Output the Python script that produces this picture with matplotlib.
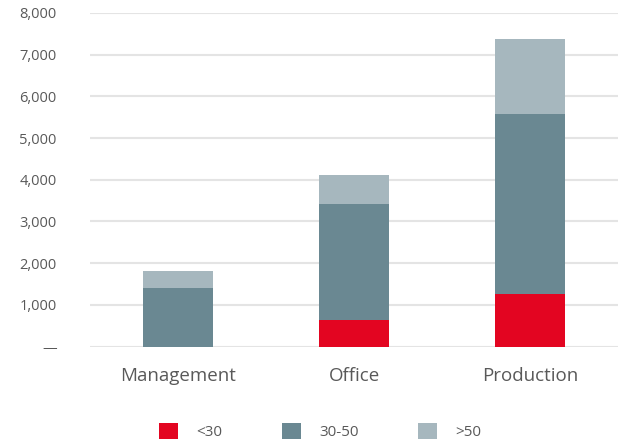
import matplotlib
matplotlib.use("Agg")
import matplotlib.pyplot as plt
from matplotlib.ticker import FuncFormatter
import numpy as np

plt.rcParams['font.family'] = ['Open Sans', 'DejaVu Sans']

categories = ["Management", "Office", "Production"]
age_groups = ["<30", "30-50", ">50"]
under_30 = [0, 635, 1260]
from_30_to_50 = [1400, 2780, 4320]
over_50 = [410, 700, 1800]

colors = ["#E30521", "#6A8892", "#A6B7BE"]
text_color = "#595959"

fig = plt.figure(figsize=(6.23, 4.45), dpi=100)
ax = fig.add_axes([0.1445, 0.221, 0.8475, 0.75])

x = np.arange(len(categories))
bottom = np.zeros(len(categories))
for label, vals, col in zip(age_groups, [under_30, from_30_to_50, over_50], colors):
    ax.bar(x, vals, 0.403, bottom=bottom, color=col, label=label, zorder=3)
    bottom += np.array(vals)

ax.set_xlim(-0.5, 2.5)
ax.set_ylim(0, 8000)
ax.set_yticks(np.arange(0, 8001, 1000))
ax.yaxis.set_major_formatter(FuncFormatter(lambda v, p: "—" if v == 0 else f"{v:,.0f}"))
ax.grid(axis="y", color="#E4E4E4", linewidth=1.5, zorder=0)

for s in ax.spines.values():
    s.set_visible(False)
ax.tick_params(axis="y", length=0, pad=24, labelsize=10.5, labelcolor=text_color)
ax.tick_params(axis="x", length=0, pad=15, labelsize=13.5, labelcolor=text_color)
ax.set_xticks(x)
ax.set_xticklabels(categories)

fig.legend(loc="center", bbox_to_anchor=(0.514, 0.03), ncol=3, frameon=False,
           fontsize=11, labelcolor=text_color, handlelength=1.25, handleheight=1.25,
           columnspacing=3.9, handletextpad=1.2)

fig.savefig("out.png", dpi=100)
